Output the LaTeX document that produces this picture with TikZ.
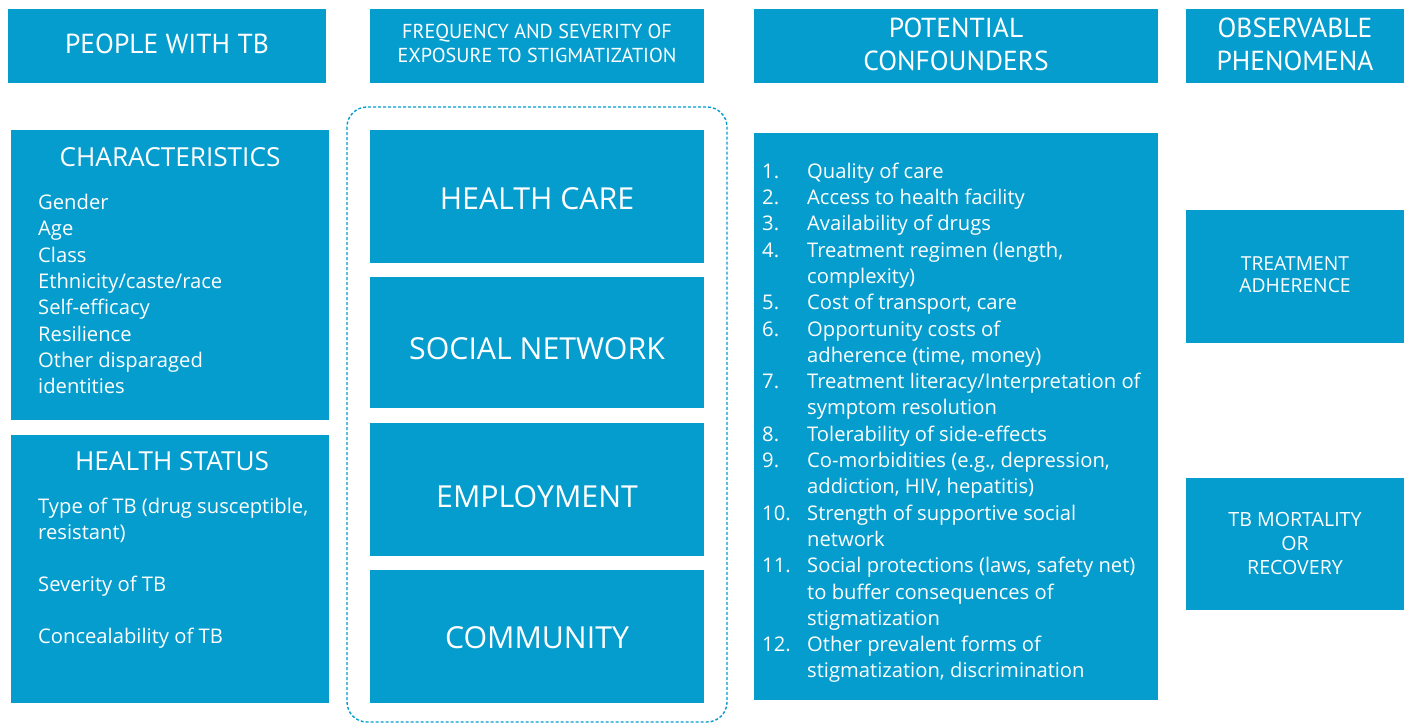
\documentclass[tikz,border=0pt]{standalone}
\usepackage{fontspec}
\setmainfont{Open Sans}
\newfontfamily\hdfont{PT Sans}
\definecolor{tbblue}{RGB}{4,157,206}
\newcommand{\ts}[1]{\rule{0pt}{#1}}
\newcommand{\nm}[1]{\makebox[45pt][l]{#1}}
\newcommand{\ind}{\hspace*{45pt}}
\begin{document}
\begin{tikzpicture}[x=1pt,y=-1pt,
  box/.style={fill=tbblue, draw=none, inner sep=0pt, anchor=north west},
  txt/.style={text=white, inner sep=0pt},
  hdr/.style={txt, font=\hdfont\fontsize{27.5}{32.7}\selectfont, align=center},
  ttl/.style={txt, font=\fontsize{26.2}{30}\selectfont},
  big/.style={txt, font=\fontsize{30.3}{36}\selectfont},
  body/.style={txt, font=\fontsize{20.2}{26.3}\selectfont, align=left, anchor=north west},
  sml/.style={txt, font=\fontsize{19.3}{23.3}\selectfont, align=center, anchor=north},
  frame/.style={draw=tbblue, line width=1.4pt, dash pattern=on 3pt off 2pt, rounded corners=20pt}
]
\useasboundingbox (0,0) rectangle (1408,724);

% dashed frame
\draw[frame] (347,107) rectangle (727,722);

% top headers
\node[box, minimum width=318pt, minimum height=74pt] (people) at (8,9) {};
\node[box, minimum width=334pt, minimum height=74pt] (freq) at (370,9) {};
\node[box, minimum width=404pt, minimum height=74pt] (conf) at (754,9) {};
\node[box, minimum width=218pt, minimum height=74pt] (obs) at (1186,9) {};

\node[hdr, anchor=base] (peopleT) at (167,53.3) {PEOPLE WITH TB};
\node[hdr, anchor=north, font=\hdfont\fontsize{20.2}{24.4}\selectfont] (freqT) at (537,22.3)
  {\ts{16pt}FREQUENCY AND SEVERITY OF\\EXPOSURE TO STIGMATIZATION};
\node[hdr, anchor=north] (confT) at (956,15.3) {\ts{22pt}POTENTIAL\\CONFOUNDERS};
\node[hdr, anchor=north] (obsT) at (1295,15.3) {\ts{22pt}OBSERVABLE\\PHENOMENA};

% left column
\node[box, minimum width=318pt, minimum height=290pt] (charb) at (11,130) {};
\node[ttl, anchor=base] (charT) at (170,166) {CHARACTERISTICS};
\node[body] (charL) at (38,190.3) {\ts{19pt}Gender\\Age\\Class\\Ethnicity/caste/race\\Self-efficacy\\Resilience\\Other disparaged\\identities};

\node[box, minimum width=318pt, minimum height=268pt] (hsb) at (11,435) {};
\node[ttl, anchor=base] (hsT) at (172,470.7) {HEALTH STATUS};
\node[body, font=\fontsize{20.2}{26}\selectfont] (hsL) at (38,494.3) {\ts{19pt}Type of TB (drug susceptible,\\resistant)\\\mbox{}\\Severity of TB\\\mbox{}\\Concealability of TB};

% middle column
\node[box, minimum width=334pt, minimum height=133pt] (hc) at (370,130) {};
\node[box, minimum width=334pt, minimum height=131pt] (sn) at (370,277) {};
\node[box, minimum width=334pt, minimum height=133pt] (em) at (370,423) {};
\node[box, minimum width=334pt, minimum height=133pt] (cm) at (370,570) {};
\node[big, anchor=base] (hcT) at (537,209) {HEALTH CARE};
\node[big, anchor=base] (snT) at (537,359.5) {SOCIAL NETWORK};
\node[big, anchor=base] (emT) at (537,507) {EMPLOYMENT};
\node[big, anchor=base] (cmT) at (537,648.3) {COMMUNITY};

% confounders
\node[box, minimum width=404pt, minimum height=567pt] (cfb) at (754,133) {};
\node[body] (cfL) at (762,159) {\ts{19pt}\nm{1.}Quality of care\\
\nm{2.}Access to health facility\\
\nm{3.}Availability of drugs\\
\nm{4.}Treatment regimen (length,\\
\ind complexity)\\
\nm{5.}Cost of transport, care\\
\nm{6.}Opportunity costs of\\
\ind adherence (time, money)\\
\nm{7.}Treatment literacy/Interpretation of\\
\ind symptom resolution\\
\nm{8.}Tolerability of side-effects\\
\nm{9.}Co-morbidities (e.g., depression,\\
\ind addiction, HIV, hepatitis)\\
\nm{10.}Strength of supportive social\\
\ind network\\
\nm{11.}Social protections (laws, safety net)\\
\ind to buffer consequences of\\
\ind stigmatization\\
\nm{12.}Other prevalent forms of\\
\ind stigmatization, discrimination};

% right column
\node[box, minimum width=218pt, minimum height=133pt] (ta) at (1186,210) {};
\node[sml, font=\fontsize{19.3}{22.7}\selectfont] (taT) at (1295,253) {\ts{17pt}TREATMENT\\ADHERENCE};
\node[box, minimum width=218pt, minimum height=132pt] (mr) at (1186,478) {};
\node[sml, font=\fontsize{19.6}{23.8}\selectfont] (mrT) at (1295,509.7) {\ts{17pt}TB MORTALITY\\OR\\RECOVERY};
\end{tikzpicture}
\end{document}
